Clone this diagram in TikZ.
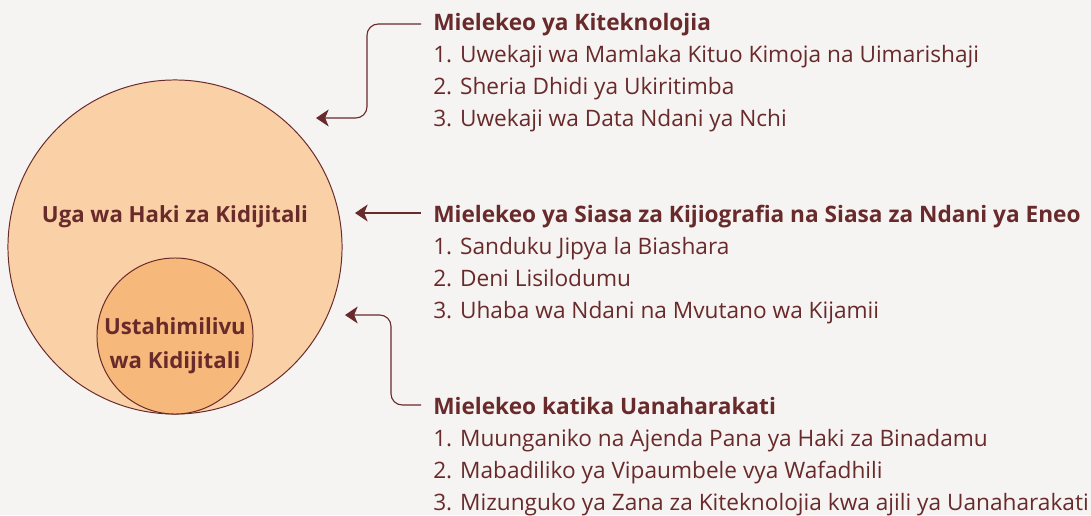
\documentclass[tikz,border=0pt]{standalone}
\usepackage{fontspec}
\setmainfont{Open Sans}
\usetikzlibrary{arrows.meta}
\usetikzlibrary{positioning}
\usetikzlibrary{calc}
\definecolor{maroon}{RGB}{104,42,42}
\definecolor{peachbig}{RGB}{250,208,167}
\definecolor{peachsmall}{RGB}{247,184,123}
\definecolor{paper}{RGB}{245,244,242}

\begin{document}
\begin{tikzpicture}[x=0.025cm, y=-0.025cm, >={Stealth[length=9pt,width=12pt,inset=2.5pt]},
    head/.style={anchor=west, inner sep=0pt, text height=0.95em, text depth=0.25em, text=maroon, font=\fontsize{16.1}{18}\selectfont\bfseries},
    item/.style={anchor=west, inner sep=0pt, text height=0.95em, text depth=0.25em, text=maroon, font=\fontsize{16.1}{18}\selectfont},
    lbl/.style={inner sep=0pt, align=center, text=maroon, font=\fontsize{15.8}{24}\selectfont\bfseries},
    conn/.style={draw=maroon, line width=0.8pt, rounded corners=8pt}]
    %background
    \fill[paper] (0,0) rectangle (1091,515);
    \useasboundingbox (0,0) rectangle (1091,515);

    %coordinates
    \coordinate (tipA) at (316,118);
    \coordinate (tipB) at (355,213);
    \coordinate (tipC) at (345,315);

    %circles
    \node[circle, draw=maroon, line width=0.7pt, fill=peachbig, minimum size=8.35cm, inner sep=0pt] (field) at (175,247) {};
    \node[circle, draw=maroon, line width=0.7pt, fill=peachsmall, minimum size=3.9cm, inner sep=0pt] (resil) at (175,336) {};
    \node[lbl] (fieldlbl) at (175,217) {Uga wa Haki za Kidijitali};
    \node[lbl] (resillbl) at (175,346) {Ustahimilivu\\wa Kidijitali};

    %headings
    \node[head] (techhd) at (433,26) {Mielekeo ya Kiteknolojia};
    \node[head] (polhd) at (433,218) {Mielekeo ya Siasa za Kijiografia na Siasa za Ndani ya Eneo};
    \node[head] (acthd) at (433,410) {Mielekeo katika Uanaharakati};

    %lists
    \foreach \t [count=\i] in {Uwekaji wa Mamlaka Kituo Kimoja na Uimarishaji, Sheria Dhidi ya Ukiritimba, Uwekaji wa Data Ndani ya Nchi}
        \node[item] (tech\i) at (433,26+32*\i) {\i. \t};
    \foreach \t [count=\i] in {Sanduku Jipya la Biashara, Deni Lisilodumu, Uhaba wa Ndani na Mvutano wa Kijamii}
        \node[item] (pol\i) at (433,218+32*\i) {\i. \t};
    \foreach \t [count=\i] in {Muunganiko na Ajenda Pana ya Haki za Binadamu, Mabadiliko ya Vipaumbele vya Wafadhili, Mizunguko ya Zana za Kiteknolojia kwa ajili ya Uanaharakati}
        \node[item] (act\i) at (433,410+32*\i) {\i. \t};

    %connectors
    \draw[conn,<-] (tipA) -| ($(techhd.west)+(-66,-2)$) -- ($(techhd.west)+(-12,-2)$);
    \draw[conn,<-] (tipB) -- ($(polhd.west)+(-12,-5)$);
    \draw[conn,<-] (tipC) -| ($(acthd.west)+(-42,-5)$) -- ($(acthd.west)+(-12,-5)$);
\end{tikzpicture}
\end{document}
